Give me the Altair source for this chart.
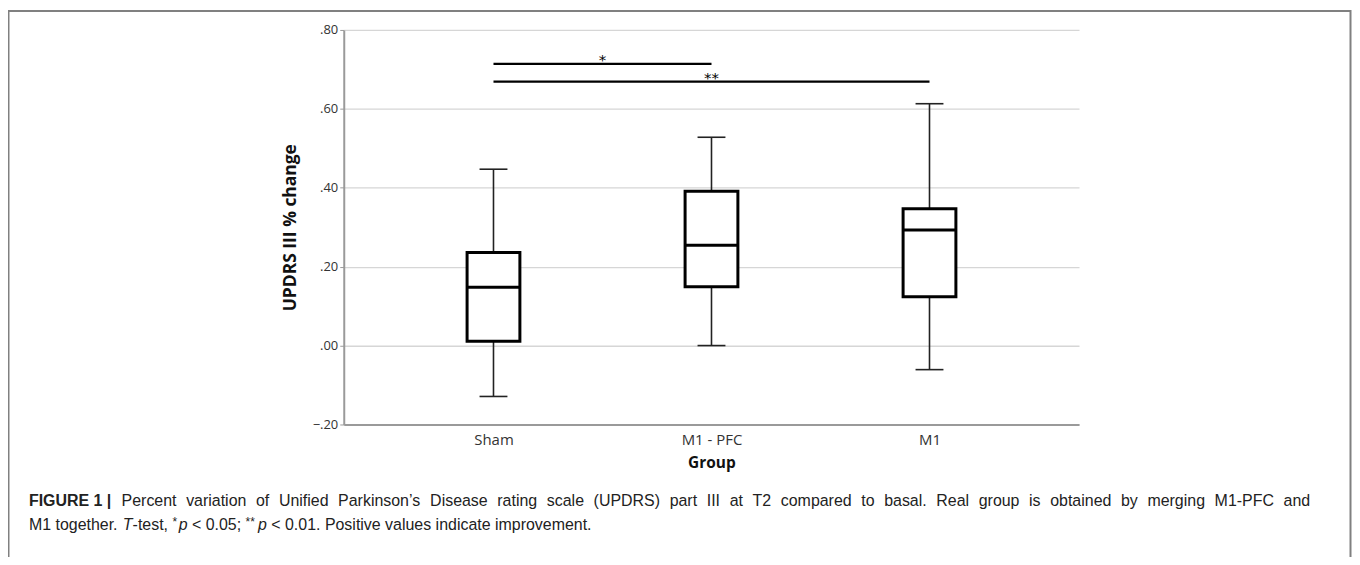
import altair as alt
import pandas as pd

# ---- data ----
groups = ["Sham", "M1 - PFC", "M1"]
whisker_low = [-0.129, 0.000, -0.061]
q1 = [0.011, 0.149, 0.124]
median = [0.148, 0.254, 0.293]
q3 = [0.236, 0.391, 0.347]
whisker_high = [0.447, 0.528, 0.613]

sig_from = [0, 0]
sig_to = [1, 2]
sig_y = [0.714, 0.669]
sig_label = ["*", "**"]

y_ticks = [-0.2, 0.0, 0.2, 0.4, 0.6, 0.8]

caption1_bold = ["FIGURE", "1", "|"]
caption1_words = ("Percent variation of Unified Parkinson\u2019s Disease rating scale (UPDRS) part III at T2 "
                  "compared to basal. Real group is obtained by merging M1-PFC and").split(" ")
# (text, style) runs of the second caption line
caption2_runs = [
    ("M1 together. ", "normal"),
    ("T", "italic"),
    ("-test, ", "normal"),
    ("*", "sup"),
    ("p", "italic"),
    (" < 0.05; ", "normal"),
    ("**", "sup"),
    ("p", "italic"),
    (" < 0.01. Positive values indicate improvement.", "normal"),
]

# ---- tables ----
box_df = pd.DataFrame({
    "idx": list(range(len(groups))),
    "group": groups,
    "low": whisker_low,
    "q1": q1,
    "median": median,
    "q3": q3,
    "high": whisker_high,
})
sig_df = pd.DataFrame({"x1": sig_from, "x2": sig_to, "y": sig_y, "label": sig_label})
one = pd.DataFrame({"a": [0]})

label_expr = " : ".join(
    [f"datum.value == {i} ? '{g}'" for i, g in enumerate(groups)]) + " : ''"

x_axis = alt.Axis(values=list(range(len(groups))), labelExpr=label_expr, grid=False,
                  ticks=False, title="Group", labelPadding=8, titlePadding=8,
                  labelFontSize=15, titleFontSize=15.5, domainColor="#9a9a9a", domainWidth=2)
y_axis = alt.Axis(values=y_ticks, labelExpr="replace(format(datum.value, '.2f'), '0.', '.')",
                  title="UPDRS III % change", grid=True, gridColor="#d6d6d6", gridWidth=1.3,
                  tickSize=4, tickColor="#9a9a9a", domainColor="#9a9a9a", domainWidth=2,
                  labelPadding=2, titlePadding=13, labelFontSize=13, titleFontSize=17.5)

xs = alt.Scale(domain=[-0.664, 2.663], nice=False, zero=False)
ys = alt.Scale(domain=[-0.2, 0.8], nice=False, zero=False)

base = alt.Chart(box_df)
X = alt.X("idx:Q", scale=xs, axis=x_axis)

whisk_lo = base.mark_rule(color="#222", strokeWidth=1.6).encode(
    x=X, y=alt.Y("low:Q", scale=ys, axis=y_axis), y2="q1:Q")
whisk_hi = base.mark_rule(color="#222", strokeWidth=1.6).encode(
    x=X, y=alt.Y("q3:Q", scale=ys, axis=y_axis), y2="high:Q")
cap_lo = base.mark_tick(color="#222", size=28, thickness=1.6, orient="horizontal", opacity=1).encode(
    x=X, y=alt.Y("low:Q", scale=ys, axis=y_axis))
cap_hi = base.mark_tick(color="#222", size=28, thickness=1.6, orient="horizontal", opacity=1).encode(
    x=X, y=alt.Y("high:Q", scale=ys, axis=y_axis))
box = base.mark_bar(fill="white", stroke="black", strokeWidth=3, size=53, opacity=1).encode(
    x=X, y=alt.Y("q1:Q", scale=ys, axis=y_axis), y2="q3:Q")
med = base.mark_tick(color="black", size=53, thickness=3, orient="horizontal", opacity=1).encode(
    x=X, y=alt.Y("median:Q", scale=ys, axis=y_axis))

sig_base = alt.Chart(sig_df)
sig_lines = sig_base.mark_rule(color="black", strokeWidth=2.2).encode(
    x=alt.X("x1:Q", scale=xs, axis=x_axis), x2="x2:Q",
    y=alt.Y("y:Q", scale=ys, axis=y_axis))
sig_text = sig_base.transform_calculate(mid="(datum.x1 + datum.x2) / 2").mark_text(
    color="black", fontSize=15, baseline="bottom", dy=4, font="DejaVu Sans").encode(
    x=alt.X("mid:Q", scale=xs, axis=x_axis), y=alt.Y("y:Q", scale=ys, axis=y_axis),
    text="label:N")

# ---- figure frame (page border) ----
frame_color = "#808080"
frame_top = alt.Chart(one).mark_rule(color=frame_color, strokeWidth=2).encode(
    x=alt.value(-337), x2=alt.value(1011), y=alt.value(-19))
frame_left = alt.Chart(one).mark_rule(color=frame_color, strokeWidth=2).encode(
    x=alt.value(-336.5), y=alt.value(-20), y2=alt.value(560))
frame_right = alt.Chart(one).mark_rule(color=frame_color, strokeWidth=2).encode(
    x=alt.value(1010.5), y=alt.value(-20), y2=alt.value(560))

# ---- caption (Arial-metric text, first line justified) ----
cap_font = "Liberation Sans"
cap_size = 16
_reg = {
    'a': 556, 'b': 556, 'c': 500, 'd': 556, 'e': 556, 'f': 278, 'g': 556, 'h': 556, 'i': 222,
    'j': 222, 'k': 500, 'l': 222, 'm': 833, 'n': 556, 'o': 556, 'p': 556, 'q': 556, 'r': 333,
    's': 500, 't': 278, 'u': 556, 'v': 500, 'w': 722, 'x': 500, 'y': 500, 'z': 500,
    'A': 667, 'B': 667, 'C': 722, 'D': 722, 'E': 667, 'F': 611, 'G': 778, 'H': 722, 'I': 278,
    'J': 500, 'K': 667, 'L': 556, 'M': 833, 'N': 722, 'O': 778, 'P': 667, 'Q': 778, 'R': 722,
    'S': 667, 'T': 611, 'U': 722, 'V': 667, 'W': 944, 'X': 667, 'Y': 667, 'Z': 611,
    ' ': 278, '.': 278, ',': 278, '-': 333, '(': 333, ')': 333, '\u2019': 222, ';': 278,
    '<': 584, '*': 389, '|': 260,
}
_bold = {'F': 611, 'I': 278, 'G': 778, 'U': 722, 'R': 722, 'E': 667, '1': 556, '|': 280, ' ': 278}


def measure(text, table, size=cap_size):
    return sum(table.get(ch, 556) for ch in text) * size / 1000.0


def seg(text, x, y, weight="normal", style="normal", size=cap_size, dy=0):
    return alt.Chart(one).mark_text(
        text=text, align="left", baseline="middle", font=cap_font, fontSize=size,
        fontWeight=weight, fontStyle=style, color="#222", dy=dy).encode(
        x=alt.value(x), y=alt.value(y))


ORIGIN_X = 345          # page x of the plot's left edge
L1 = 473
L2 = 497
line_left = 29 - ORIGIN_X
line_right = 1315 - ORIGIN_X
captions = []

# bold lead "FIGURE 1 |" with natural spaces
xpos = line_left
for w in caption1_bold:
    captions.append(seg(w, xpos, L1, weight="bold"))
    xpos += measure(w + " ", _bold)
# justified rest of line one
start = 122 - ORIGIN_X
total_words = sum(measure(w, _reg) for w in caption1_words)
gap = (line_right - start - total_words) / (len(caption1_words) - 1)
xpos = start
for w in caption1_words:
    captions.append(seg(w, xpos, L1))
    xpos += measure(w, _reg) + gap

# line two, natural spacing (leading blanks advance the pen, since SVG drops them)
xpos = line_left
for text, style in caption2_runs:
    lead = len(text) - len(text.lstrip(" "))
    xpos += measure(" " * lead, _reg)
    body = text.lstrip(" ")
    if style == "sup":
        captions.append(seg(body, xpos, L2, size=12, dy=-3))
    else:
        captions.append(seg(body, xpos, L2, style=style))
    xpos += measure(body, _reg)

chart = alt.layer(
    whisk_lo, whisk_hi, cap_lo, cap_hi, box, med, sig_lines, sig_text,
    frame_top, frame_left, frame_right, *captions
).properties(
    width=738, height=396,
    autosize=alt.AutoSizeParams(type="none"),
    padding={"left": 337, "top": 21, "right": 274, "bottom": 132},
).configure_view(stroke=None).configure_axis(
    labelFont="Open Sans", labelColor="#333", titleFont="Open Sans",
    titleFontWeight="bold", titleColor="#111")

chart.save("out.html", embed_options={"renderer": "svg", "actions": False})
